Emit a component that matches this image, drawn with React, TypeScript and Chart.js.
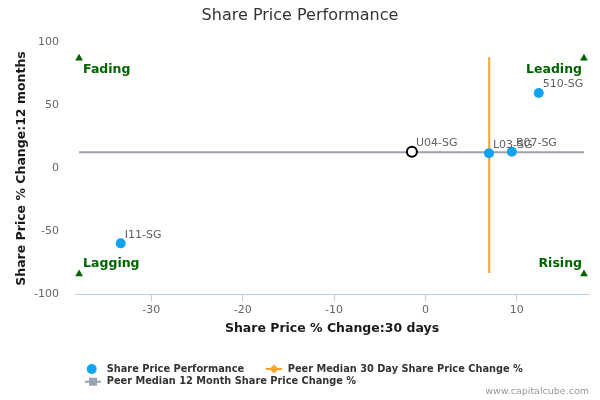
import React, { useEffect, useRef } from "react";
import { Chart, registerables } from "chart.js";

Chart.register(...registerables);

// ---- data ----
const companyNames = ["I11-SG", "U04-SG", "L03-SG", "B07-SG", "510-SG"];
const change30d = [-33.35, -1.48, 6.95, 9.46, 12.4];
const change12m = [-59.4, 13.3, 12.1, 13.3, 59.9];
const highlightedCompany = "U04-SG";

const peerMedian30d = 6.98;
const peerMedian12m = 12.9;
const medianLineYSpan = [88.3, -82.9];
const medianLineXSpan = [-37.9, 17.35];

const quadrantNames = ["Fading", "Leading", "Lagging", "Rising"];
const quadrantX = [-37.9, 17.35, -37.9, 17.35];
const quadrantY = [87.5, 87.5, -83.7, -83.7];

const xTicks = [-30, -20, -10, 0, 10];
const yTicks = [-100, -50, 0, 50, 100];
const xRange = [-38.35, 17.9];
const yRange = [-100, 100];

const chartTitle = "Share Price Performance";
const xTitle = "Share Price % Change:30 days";
const yTitle = "Share Price % Change:12 months";
const legendLabels = [
  "Share Price Performance",
  "Peer Median 30 Day Share Price Change %",
  "Peer Median 12 Month Share Price Change %",
];
const creditText = "www.capitalcube.com";

// ---- styles ----
const FONT = '"DejaVu Sans", Verdana, sans-serif';
const BLUE = "#12A3EE";
const ORANGE = "#F9A22C";
const GREY = "#9AA1AF";
const GREEN = "#006400";

const overlayPlugin = {
  id: "overlay",
  afterDatasetsDraw(chart: any) {
    const { ctx, chartArea, scales } = chart;
    const x = scales.x;
    const y = scales.y;
    ctx.save();
    // data labels
    ctx.font = `11px ${FONT}`;
    ctx.fillStyle = "#606060";
    ctx.textAlign = "left";
    ctx.textBaseline = "middle";
    companyNames.forEach((n, i) => {
      ctx.fillText(
        n,
        x.getPixelForValue(change30d[i]) + 4,
        y.getPixelForValue(change12m[i]) - 8.5
      );
    });
    // quadrant labels
    ctx.font = `bold 12.5px ${FONT}`;
    ctx.fillStyle = GREEN;
    quadrantNames.forEach((n, i) => {
      const px = x.getPixelForValue(quadrantX[i]);
      const py = y.getPixelForValue(quadrantY[i]);
      const left = i % 2 === 0;
      const top = i < 2;
      ctx.textAlign = left ? "left" : "right";
      ctx.fillText(n, left ? px + 4 : px - 2, top ? py + 11 : py - 10);
    });
    ctx.restore();
  },
  afterDraw(chart: any) {
    const { ctx, chartArea } = chart;
    ctx.save();
    // title
    ctx.font = `16px ${FONT}`;
    ctx.fillStyle = "#333333";
    ctx.textAlign = "center";
    ctx.textBaseline = "middle";
    ctx.fillText(chartTitle, 300, 16);
    // axis titles
    ctx.font = `bold 12.5px ${FONT}`;
    ctx.fillStyle = "#1a1a1a";
    ctx.fillText(xTitle, (chartArea.left + chartArea.right) / 2, 328.5);
    ctx.save();
    ctx.translate(22, (chartArea.top + chartArea.bottom) / 2);
    ctx.rotate(-Math.PI / 2);
    ctx.fillText(yTitle, 0, 0);
    ctx.restore();
    // legend
    const r1 = 369;
    const r2 = 381.7;
    ctx.fillStyle = BLUE;
    ctx.beginPath();
    ctx.arc(91.7, r1, 5, 0, Math.PI * 2);
    ctx.fill();
    ctx.strokeStyle = ORANGE;
    ctx.lineWidth = 2;
    ctx.beginPath();
    ctx.moveTo(266, r1);
    ctx.lineTo(282, r1);
    ctx.stroke();
    ctx.fillStyle = ORANGE;
    ctx.beginPath();
    ctx.moveTo(274, r1 - 4.5);
    ctx.lineTo(278.5, r1);
    ctx.lineTo(274, r1 + 4.5);
    ctx.lineTo(269.5, r1);
    ctx.closePath();
    ctx.fill();
    ctx.strokeStyle = GREY;
    ctx.beginPath();
    ctx.moveTo(85, r2);
    ctx.lineTo(101, r2);
    ctx.stroke();
    ctx.fillStyle = GREY;
    ctx.fillRect(89, r2 - 4, 8, 8);
    ctx.font = `bold 9.8px ${FONT}`;
    ctx.fillStyle = "#333333";
    ctx.textAlign = "left";
    ctx.fillText(legendLabels[0], 106.7, r1);
    ctx.fillText(legendLabels[1], 287.7, r1);
    ctx.fillText(legendLabels[2], 106.7, r2);
    // credit
    ctx.font = `9.5px ${FONT}`;
    ctx.fillStyle = "#999999";
    ctx.textAlign = "right";
    ctx.fillText(creditText, 589, 391.7);
    ctx.restore();
  },
};

export default function App() {
  const canvasRef = useRef<HTMLCanvasElement | null>(null);

  useEffect(() => {
    if (!canvasRef.current) return;
    const points = change30d.map((v, i) => ({ x: v, y: change12m[i] }));
    const isHi = companyNames.map((n) => n === highlightedCompany);
    const chart = new Chart(canvasRef.current, {
      type: "scatter",
      data: {
        datasets: [
          {
            label: legendLabels[0],
            data: points,
            pointRadius: 5,
            pointHoverRadius: 5,
            pointBackgroundColor: isHi.map((h) => (h ? "#ffffff" : BLUE)),
            pointBorderColor: isHi.map((h) => (h ? "#000000" : BLUE)),
            pointBorderWidth: isHi.map((h) => (h ? 2 : 0)),
            showLine: false,
          },
          {
            label: legendLabels[1],
            data: medianLineYSpan.map((v) => ({ x: peerMedian30d, y: v })),
            showLine: true,
            borderColor: ORANGE,
            borderWidth: 2,
            pointRadius: 0,
          },
          {
            label: legendLabels[2],
            data: medianLineXSpan.map((v) => ({ x: v, y: peerMedian12m })),
            showLine: true,
            borderColor: GREY,
            borderWidth: 2,
            pointRadius: 0,
          },
          {
            label: "Quadrants",
            data: quadrantX.map((v, i) => ({ x: v, y: quadrantY[i] })),
            pointStyle: "triangle",
            pointRadius: 4.5,
            pointBackgroundColor: GREEN,
            pointBorderColor: GREEN,
            pointBorderWidth: 0,
            showLine: false,
          },
        ],
      },
      options: {
        animation: false,
        responsive: false,
        devicePixelRatio: 1,
        layout: { padding: { top: 42.5, right: 11, left: 0, bottom: 0 } },
        plugins: {
          legend: { display: false },
          title: { display: false },
          tooltip: { enabled: false },
        },
        scales: {
          x: {
            type: "linear",
            min: xRange[0],
            max: xRange[1],
            afterBuildTicks: (s: any) => {
              s.ticks = xTicks.map((v) => ({ value: v }));
            },
            afterFit: (s: any) => {
              s.height = 105.5;
            },
            grid: {
              display: true,
              drawOnChartArea: false,
              drawTicks: true,
              tickLength: 7,
              color: "#C0D0E0",
            },
            border: { display: true, color: "#C0D0E0", width: 1 },
            ticks: {
              color: "#666666",
              font: { family: FONT, size: 11 },
              padding: 2,
              maxRotation: 0,
            },
          },
          y: {
            type: "linear",
            min: yRange[0],
            max: yRange[1],
            afterBuildTicks: (s: any) => {
              s.ticks = yTicks.map((v) => ({ value: v }));
            },
            afterFit: (s: any) => {
              s.width = 75;
            },
            grid: { display: false, drawTicks: false },
            border: { display: false },
            ticks: {
              color: "#666666",
              font: { family: FONT, size: 11 },
              padding: 16,
            },
          },
        },
      },
      plugins: [overlayPlugin],
    });
    return () => chart.destroy();
  }, []);

  return (
    <div style={{ position: "fixed", left: 0, top: 0, width: 600, height: 400, background: "#ffffff" }}>
      <canvas ref={canvasRef} width={600} height={400} style={{ width: 600, height: 400 }} />
    </div>
  );
}
